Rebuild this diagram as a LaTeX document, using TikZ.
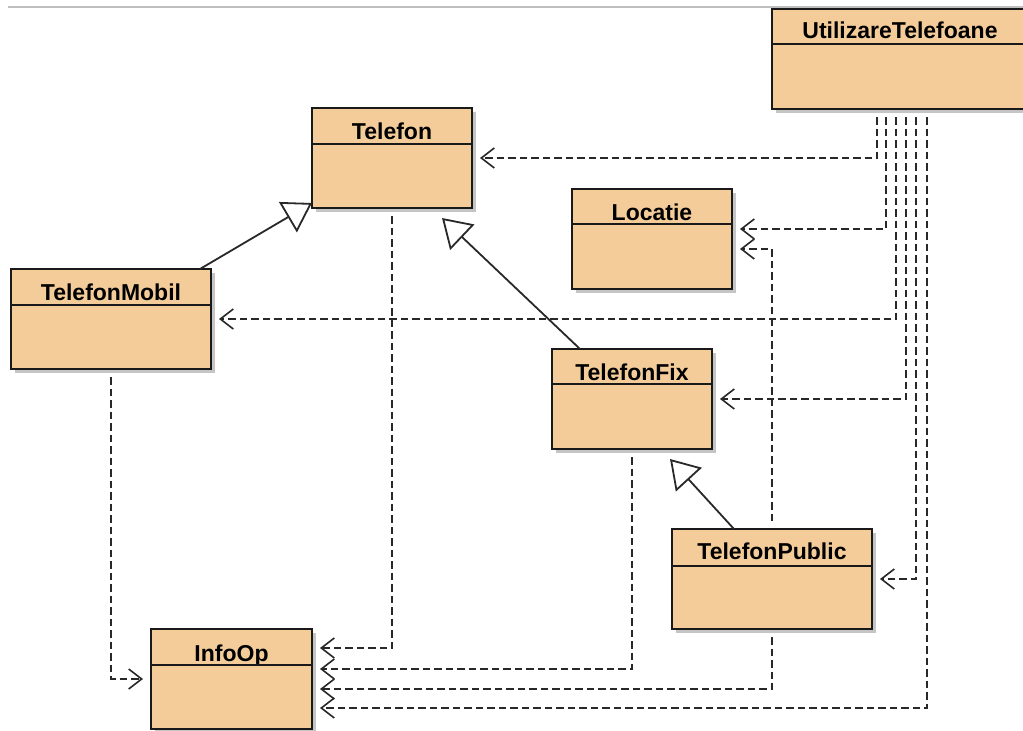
\documentclass[tikz,border=0pt]{standalone}
\usepackage{fontspec}
\setmainfont{Liberation Sans}
\usetikzlibrary{arrows.meta,shadows}
\definecolor{classfill}{RGB}{244,204,154}
\definecolor{linegray}{RGB}{40,40,40}

\begin{document}
\begin{tikzpicture}[x=1pt,y=-1pt,
    classbox/.style={draw=black!90, fill=classfill, line width=2.4pt,
        minimum height=100pt, inner sep=0pt, outer sep=0pt,
        drop shadow={shadow xshift=4pt, shadow yshift=-4pt, fill=black!45, opacity=.5}},
    classname/.style={anchor=base, inner sep=0pt,
        font=\fontsize{23}{26}\selectfont\bfseries},
    classline/.style={draw=black!90, line width=1.8pt},
    dep/.style={draw=linegray, line width=1.6pt, dash pattern=on 7.5pt off 4pt,
        shorten <=8pt, shorten >=8pt, -{Straight Barb[length=13pt,width=20pt]}},
    inh/.style={draw=linegray, line width=1.8pt, -{Triangle[open,length=28pt,width=35pt]}}
]
\useasboundingbox (0,0) rectangle (1023,731);

\draw[black!25, line width=2pt] (8,7) -- (1023,7);

\node[classbox, minimum width=256pt] (util) at (900,59) {};
\node[classname] (utilname) at ([yshift=-29pt]util.north) {UtilizareTelefoane};
\draw[classline] ([yshift=-35pt]util.north west) -- ([yshift=-35pt]util.north east);

\node[classbox, minimum width=160pt] (telefon) at (392,158) {};
\node[classname] (telefonname) at ([yshift=-31pt]telefon.north) {Telefon};
\draw[classline] ([yshift=-36pt]telefon.north west) -- ([yshift=-36pt]telefon.north east);

\node[classbox, minimum width=160pt] (locatie) at (652,239) {};
\node[classname] (locatiename) at ([yshift=-31pt]locatie.north) {Locatie};
\draw[classline] ([yshift=-35pt]locatie.north west) -- ([yshift=-35pt]locatie.north east);

\node[classbox, minimum width=200pt] (mobil) at (111,319) {};
\node[classname] (mobilname) at ([yshift=-31pt]mobil.north) {TelefonMobil};
\draw[classline] ([yshift=-36pt]mobil.north west) -- ([yshift=-36pt]mobil.north east);

\node[classbox, minimum width=160pt] (fix) at (632,399) {};
\node[classname] (fixname) at ([yshift=-31pt]fix.north) {TelefonFix};
\draw[classline] ([yshift=-35pt]fix.north west) -- ([yshift=-35pt]fix.north east);

\node[classbox, minimum width=200pt] (public) at (772,579) {};
\node[classname] (publicname) at ([yshift=-30pt]public.north) {TelefonPublic};
\draw[classline] ([yshift=-37pt]public.north west) -- ([yshift=-37pt]public.north east);

\node[classbox, minimum width=161pt] (infoop) at (231.5,679) {};
\node[classname] (infoopname) at ([yshift=-32pt]infoop.north) {InfoOp};
\draw[classline] ([yshift=-36pt]infoop.north west) -- ([yshift=-36pt]infoop.north east);

% generalizations
\draw[inh] ([xshift=-11pt]mobil.north east) -- ([yshift=5pt]telefon.south west);
\draw[inh] ([xshift=28pt]fix.north west) -- ([xshift=50pt,yshift=-10pt]telefon.south);
\draw[inh] ([xshift=62pt]public.north west) -- ([xshift=38pt,yshift=-10pt]fix.south);

% dependencies of UtilizareTelefoane
\draw[dep] (util.south -| 877,0) |- (telefon.east);
\draw[dep] (util.south -| 886,0) |- (locatie.east |- 0,229);
\draw[dep] (util.south -| 896,0) |- (mobil.east);
\draw[dep] (util.south -| 906,0) |- (fix.east);
\draw[dep] (util.south -| 916,0) |- (public.east);
\draw[dep] (util.south -| 927,0) |- (infoop.east |- 0,708);

% other dependencies
\draw[dep] (public.north) |- (locatie.east |- 0,249);
\draw[dep] (mobil.south) |- (infoop.west);
\draw[dep] (telefon.south) |- (infoop.east |- 0,648);
\draw[dep] (fix.south) |- (infoop.east |- 0,669);
\draw[dep] (public.south) |- (infoop.east |- 0,689);

\end{tikzpicture}
\end{document}
